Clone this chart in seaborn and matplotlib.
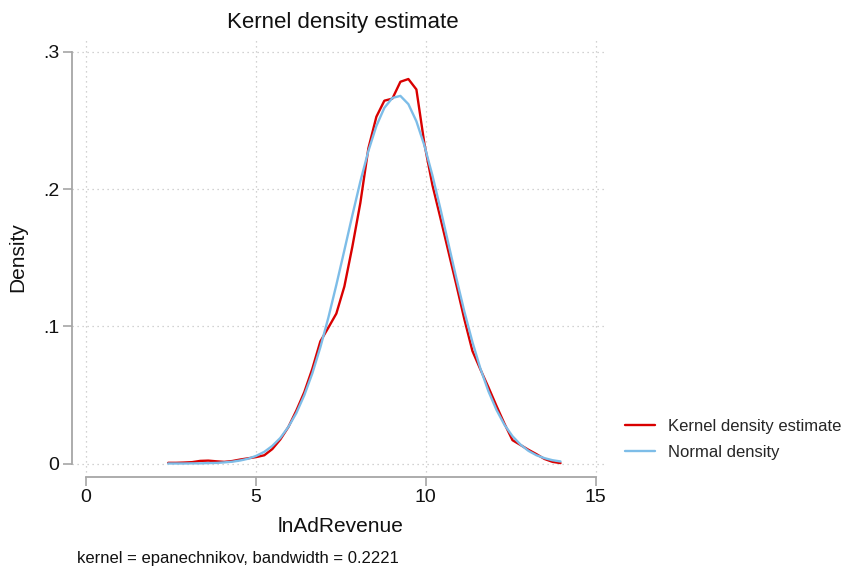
import matplotlib
matplotlib.use("Agg")
import matplotlib.pyplot as plt
import seaborn as sns
import pandas as pd

# ---- data ----
grid_x = [2.420, 2.656, 2.891, 3.127, 3.363, 3.599, 3.834, 4.070, 4.306, 4.541,
          4.777, 5.013, 5.249, 5.484, 5.720, 5.956, 6.191, 6.427, 6.663, 6.899,
          7.134, 7.370, 7.606, 7.841, 8.077, 8.313, 8.549, 8.784, 9.020, 9.256,
          9.491, 9.727, 9.963, 10.199, 10.434, 10.670, 10.906, 11.141, 11.377, 11.613,
          11.849, 12.084, 12.320, 12.556, 12.791, 13.027, 13.263, 13.499, 13.734, 13.970]

kde_density = [0.0005, 0.0005, 0.0007, 0.0010, 0.0019, 0.0021, 0.0016, 0.0012, 0.0018, 0.0029,
               0.0038, 0.0047, 0.0060, 0.0105, 0.0175, 0.0265, 0.0385, 0.0520, 0.0690, 0.0890,
               0.0990, 0.1093, 0.1290, 0.1580, 0.1900, 0.2297, 0.2528, 0.2645, 0.2660, 0.2783,
               0.2803, 0.2727, 0.2330, 0.2030, 0.1790, 0.1545, 0.1300, 0.1050, 0.0820, 0.0685,
               0.0555, 0.0420, 0.0290, 0.0170, 0.0135, 0.0100, 0.0068, 0.0033, 0.0012, 0.0003]

normal_density = [0.0000, 0.0000, 0.0000, 0.0001, 0.0001, 0.0003, 0.0004, 0.0008, 0.0013, 0.0022,
                  0.0035, 0.0056, 0.0085, 0.0128, 0.0186, 0.0266, 0.0367, 0.0498, 0.0657, 0.0847,
                  0.1062, 0.1302, 0.1554, 0.1809, 0.2056, 0.2278, 0.2461, 0.2593, 0.2665, 0.2680,
                  0.2620, 0.2495, 0.2318, 0.2100, 0.1857, 0.1602, 0.1348, 0.1106, 0.0885, 0.0691,
                  0.0526, 0.0391, 0.0282, 0.0199, 0.0138, 0.0092, 0.0060, 0.0039, 0.0024, 0.0015]

series_names = ["Kernel density estimate", "Normal density"]
series_colors = ["#d90000", "#7dbde8"]

x_ticks = [0, 5, 10, 15]
x_tick_labels = ["0", "5", "10", "15"]
y_ticks = [0, 0.1, 0.2, 0.3]
y_tick_labels = ["0", ".1", ".2", ".3"]

title_text = "Kernel density estimate"
x_label = "lnAdRevenue"
y_label = "Density"
note_text = "kernel = epanechnikov, bandwidth = 0.2221"

# ---- build long table ----
df = pd.concat([
    pd.DataFrame({"x": grid_x, "density": kde_density, "series": series_names[0]}),
    pd.DataFrame({"x": grid_x, "density": normal_density, "series": series_names[1]}),
], ignore_index=True)

sns.set_style("white")
plt.rcParams["font.family"] = ["Liberation Sans", "DejaVu Sans"]

W, H = 843, 571
fig = plt.figure(figsize=(W / 100, H / 100), dpi=100)
# plot region in pixels: left 72, right 607, top 38, bottom 477
ax = fig.add_axes([72 / W, 1 - 477 / H, (607 - 72) / W, (477 - 38) / H])

sns.lineplot(data=df, x="x", y="density", hue="series", hue_order=series_names,
             palette=dict(zip(series_names, series_colors)), linewidth=1.7,
             estimator=None, sort=False, ax=ax)

# axis scales: 0 -> px 86, 15 -> px 595.5 ; 0 -> px 463.5, .3 -> px 52
px_per_x = (595.5 - 86) / 15
px_per_y = (463.5 - 52) / 0.3
ax.set_xlim(0 - (86 - 72) / px_per_x, 15 + (607 - 595.5) / px_per_x)
ax.set_ylim(0 - (477 - 463.5) / px_per_y, 0.3 + (52 - 38) / px_per_y)

ax.set_xticks(x_ticks)
ax.set_xticklabels(x_tick_labels)
ax.set_yticks(y_ticks)
ax.set_yticklabels(y_tick_labels)

spine_col = "#a6a6a6"
for s in ["top", "right"]:
    ax.spines[s].set_visible(False)
for s in ["left", "bottom"]:
    ax.spines[s].set_color(spine_col)
    ax.spines[s].set_linewidth(1.3)
ax.spines["left"].set_bounds(0, 0.3)
ax.spines["bottom"].set_bounds(0, 15)

ax.tick_params(axis="both", which="major", direction="out", length=6.5, width=1.2,
               color=spine_col, labelsize=14, labelcolor="#111111", pad=2.5,
               left=True, bottom=True)

ax.grid(True, linestyle=(0, (1, 3)), color="#c4c4c4", linewidth=0.9)
ax.set_axisbelow(True)

ax.set_xlabel("")
ax.set_ylabel("")

# texts
fig.text(342.5 / W, 1 - 28.3 / H, title_text, ha="center", va="baseline", fontsize=16, color="#111111")
fig.text(340.5 / W, 1 - 531.7 / H, x_label, ha="center", va="baseline", fontsize=15, color="#111111")
fig.text(18 / W, 1 - 257.5 / H, y_label, ha="center", va="center", rotation=90, fontsize=15, color="#111111")
fig.text(76.7 / W, 1 - 563.5 / H, note_text, ha="left", va="baseline", fontsize=12, color="#111111")

# legend
handles, labels = ax.get_legend_handles_labels()
if ax.get_legend() is not None:
    ax.get_legend().remove()
leg = fig.legend(handles, labels, loc="center left",
                 bbox_to_anchor=(625 / W, 1 - 439.5 / H), bbox_transform=fig.transFigure,
                 frameon=False, fontsize=12, handlelength=1.8, handletextpad=0.75,
                 labelspacing=0.63, borderpad=0, borderaxespad=0)
for line in leg.get_lines():
    line.set_linewidth(1.7)

fig.savefig("out.png", dpi=100)
